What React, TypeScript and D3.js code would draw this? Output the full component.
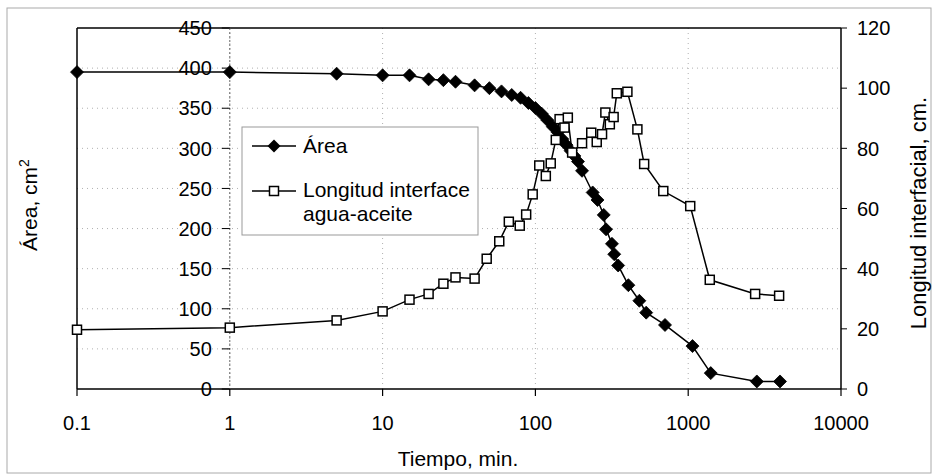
import React from "react";
import * as d3 from "d3";

const xTicks = [0.1, 1, 10, 100, 1000, 10000];
const xTickLabels = ["0.1", "1", "10", "100", "1000", "10000"];
const leftTicks = [0, 50, 100, 150, 200, 250, 300, 350, 400, 450];
const rightTicks = [0, 20, 40, 60, 80, 100, 120];

const areaTime = [0.1, 1, 5, 10, 15, 20, 25, 30, 40, 50, 60, 70, 80, 90, 100, 110, 120, 130, 140, 150, 160, 170, 180, 190, 202, 237, 255, 280, 290, 317, 328, 348, 406, 479, 531, 705, 1067, 1405, 2813, 3990];
const areaValue = [395, 395, 393, 391, 391, 386, 385, 383, 378.5, 375, 371, 366.5, 363, 356.5, 350.3, 343, 335, 327, 320, 311.5, 304, 297, 290.5, 283.5, 272, 245, 235.6, 217, 199, 181, 168, 154, 129.4, 110, 95.2, 79.8, 53.5, 19.8, 9.4, 9.4];

const lenTime = [0.1, 1, 5, 10, 15, 20, 25, 30, 40, 48, 58, 67, 79, 87, 96, 106, 117, 126, 136, 144, 155, 163, 174, 202, 232, 252, 273, 287, 307, 325, 341, 400, 465, 515, 687, 1031, 1384, 2742, 3936];
const lenValue = [19.7, 20.4, 22.8, 25.8, 29.7, 31.6, 35, 37.1, 36.7, 43.3, 49.1, 55.6, 54.3, 58, 64.7, 74.3, 70.8, 75, 82.8, 89.7, 86.9, 90.2, 78.6, 81.7, 85.2, 82.1, 84.7, 91.9, 88, 90.4, 98.3, 98.8, 86.3, 74.8, 65.8, 60.8, 36.3, 31.6, 31];

const FONT = "'Liberation Sans', Arial, sans-serif";

const diamond = (cx: number, cy: number, r: number) =>
  `M${cx},${cy - r}L${cx + r},${cy}L${cx},${cy + r}L${cx - r},${cy}Z`;

export default function App() {
  const W = 933, H = 475;
  const L = 77, R = 841, T = 28, B = 389;
  const x = d3.scaleLog().domain([0.1, 10000]).range([L, R]);
  const yL = d3.scaleLinear().domain([0, 450]).range([B, T]);
  const yR = d3.scaleLinear().domain([0, 120]).range([B, T]);
  const axisX = x(1);

  const areaPts = areaTime.map((t, i) => [x(t), yL(areaValue[i])] as [number, number]);
  const lenPts = lenTime.map((t, i) => [x(t), yR(lenValue[i])] as [number, number]);
  const line = d3.line();

  const grid = "#b0b0b0";

  return (
    <svg width={W} height={H} style={{ position: "fixed", left: 0, top: 0, background: "#fff" }} fontFamily={FONT}>
      <rect x={7} y={8} width={924} height={465} fill="none" stroke="#aaa" strokeWidth={1} />
      {/* gridlines */}
      {leftTicks.filter(v => v > 0 && v < 450).map(v => (
        <line key={"gh" + v} x1={L} x2={R} y1={yL(v)} y2={yL(v)} stroke={grid} strokeWidth={1} strokeDasharray="1,4" />
      ))}
      {xTicks.filter(v => v > 0.1 && v < 10000).map(v => (
        <line key={"gv" + v} x1={x(v)} x2={x(v)} y1={T} y2={B} stroke={grid} strokeWidth={1} strokeDasharray="1,4" />
      ))}
      {/* plot frame */}
      <line x1={L} x2={R} y1={T} y2={T} stroke="#000" strokeWidth={1.5} />
      <line x1={L} x2={L} y1={T} y2={B} stroke="#000" strokeWidth={1.5} />
      <line x1={L} x2={R} y1={B} y2={B} stroke="#000" strokeWidth={1.5} />
      <line x1={R} x2={R} y1={T} y2={B} stroke="#000" strokeWidth={1.5} />
      {/* left axis at x=1 */}
      <line x1={axisX} x2={axisX} y1={T} y2={B} stroke="#666" strokeWidth={1} strokeDasharray="2,2" />
      {leftTicks.map(v => (
        <g key={"lt" + v}>
          <line x1={axisX - 8} x2={axisX} y1={yL(v)} y2={yL(v)} stroke="#000" strokeWidth={1} />
          <text x={axisX - 18} y={yL(v)} dy="0.36em" textAnchor="end" fontSize={20} fill="#000">{v}</text>
        </g>
      ))}
      {/* right axis */}
      {rightTicks.map(v => (
        <g key={"rt" + v}>
          <line x1={R} x2={R + 6} y1={yR(v)} y2={yR(v)} stroke="#000" strokeWidth={1} />
          <text x={R + 16} y={yR(v)} dy="0.36em" textAnchor="start" fontSize={20} fill="#000">{v}</text>
        </g>
      ))}
      {/* bottom axis */}
      {xTicks.map((v, i) => (
        <g key={"xt" + v}>
          <line x1={x(v)} x2={x(v)} y1={B} y2={B + 7} stroke="#000" strokeWidth={1.2} />
          <text x={x(v)} y={430} textAnchor="middle" fontSize={20} fill="#000">{xTickLabels[i]}</text>
        </g>
      ))}
      <text x={458} y={466} textAnchor="middle" fontSize={21} fill="#000">Tiempo, min.</text>
      <text transform={`translate(37,205) rotate(-90)`} textAnchor="middle" fontSize={21} fill="#000">
        Área, cm<tspan dy={-8} fontSize={14}>2</tspan>
      </text>
      <text transform={`translate(926,213) rotate(-90)`} textAnchor="middle" fontSize={22} fill="#000">Longitud interfacial, cm.</text>

      {/* series */}
      <path d={line(areaPts) || ""} fill="none" stroke="#000" strokeWidth={1.5} />
      <path d={line(lenPts) || ""} fill="none" stroke="#000" strokeWidth={1.5} />
      {areaPts.map((p, i) => (
        <path key={"ad" + i} d={diamond(p[0], p[1], 6.5)} fill="#000" stroke="#000" strokeWidth={0.8} />
      ))}
      {lenPts.map((p, i) => (
        <rect key={"ls" + i} x={p[0] - 4.5} y={p[1] - 4.5} width={9} height={9} fill="#fff" stroke="#000" strokeWidth={1.5} />
      ))}

      {/* legend */}
      <rect x={242} y={127} width={236} height={108} fill="#fff" stroke="#999" strokeWidth={1} />
      <line x1={252} x2={296} y1={146} y2={146} stroke="#000" strokeWidth={1.5} />
      <path d={diamond(274, 146, 6.5)} fill="#000" />
      <text x={303} y={153} fontSize={21} fill="#000">Área</text>
      <line x1={252} x2={296} y1={191} y2={191} stroke="#000" strokeWidth={1.5} />
      <rect x={269.5} y={186.5} width={9} height={9} fill="#fff" stroke="#000" strokeWidth={1.5} />
      <text x={303} y={197} fontSize={21} fill="#000">Longitud interface</text>
      <text x={303} y={221} fontSize={21} fill="#000">agua-aceite</text>
    </svg>
  );
}
